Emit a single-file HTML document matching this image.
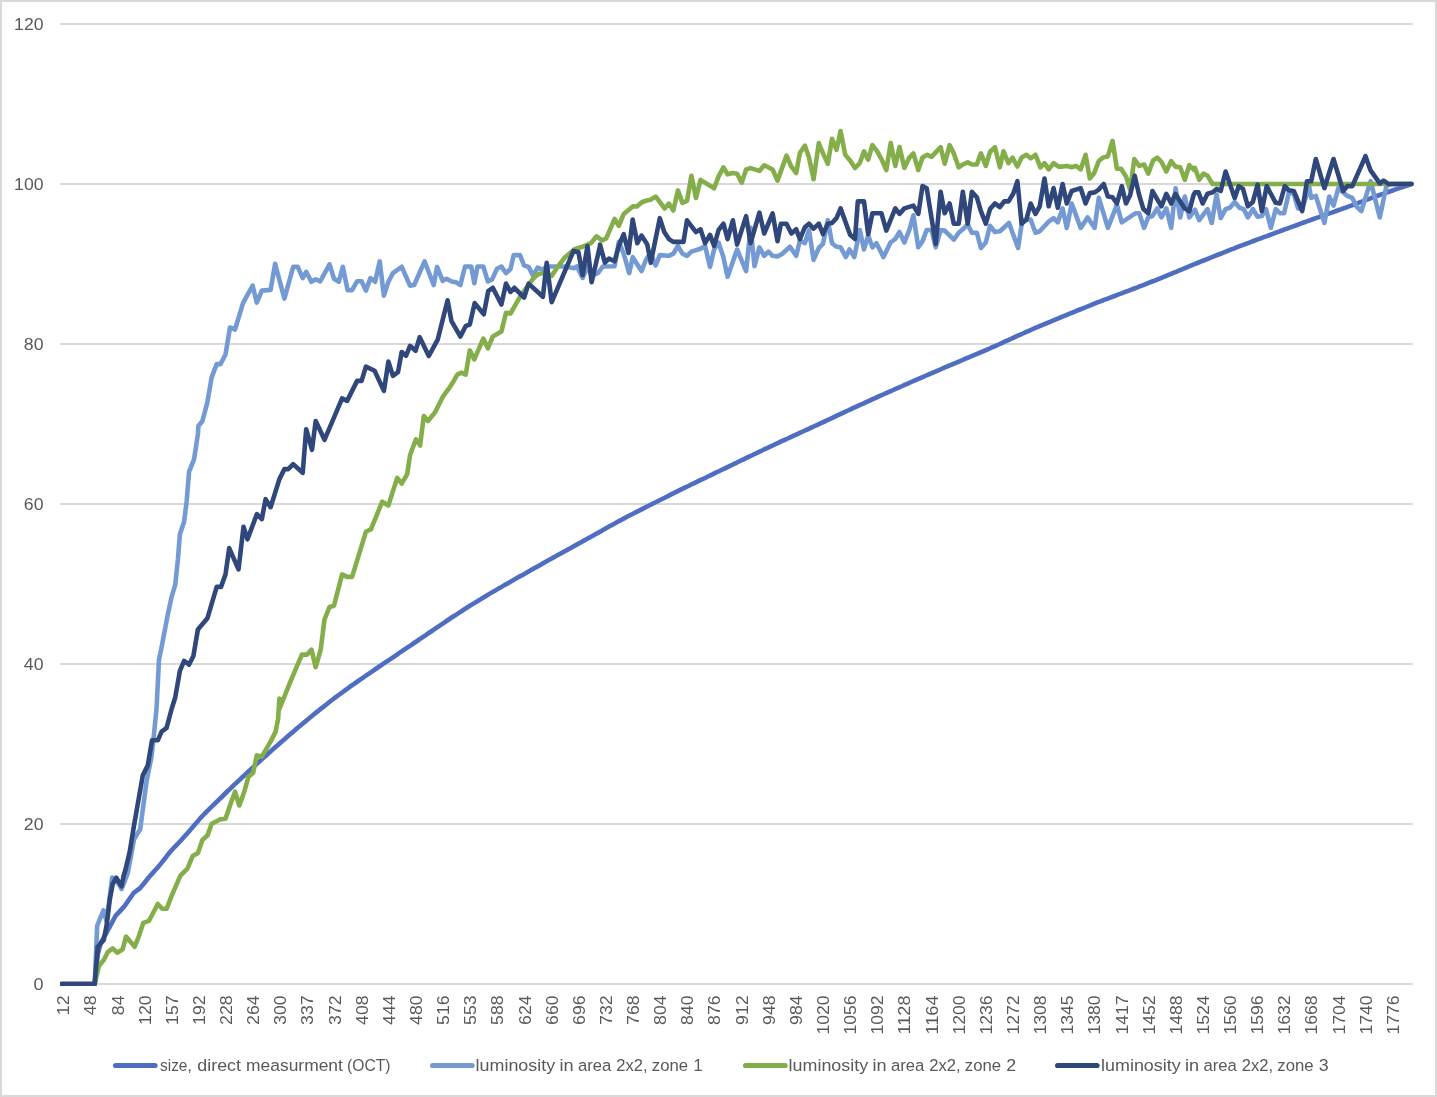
<!DOCTYPE html>
<html lang="en"><head><meta charset="utf-8"><title>Chart</title>
<style>html,body{margin:0;padding:0;background:#fff}body{width:1437px;height:1097px;overflow:hidden}svg{display:block}text{font-family:"Liberation Sans",sans-serif;font-size:16.7px;fill:#595959}</style>
</head><body>
<svg width="1437" height="1097" viewBox="0 0 1437 1097">
<rect x="0" y="0" width="1437" height="1097" fill="#fff"/>
<rect x="1" y="1" width="1435" height="1095" fill="none" stroke="#d9d9d9" stroke-width="2"/>
<g stroke="#d9d9d9" stroke-width="1.8">
<line x1="60" y1="984" x2="1413" y2="984"/>
<line x1="60" y1="824" x2="1413" y2="824"/>
<line x1="60" y1="664" x2="1413" y2="664"/>
<line x1="60" y1="504" x2="1413" y2="504"/>
<line x1="60" y1="344" x2="1413" y2="344"/>
<line x1="60" y1="184" x2="1413" y2="184"/>
<line x1="60" y1="24" x2="1413" y2="24"/>
</g>
<g text-anchor="end">
<text x="43.5" y="990.0" textLength="10.0" lengthAdjust="spacingAndGlyphs">0</text>
<text x="43.5" y="830.0" textLength="19.7" lengthAdjust="spacingAndGlyphs">20</text>
<text x="43.5" y="670.0" textLength="19.7" lengthAdjust="spacingAndGlyphs">40</text>
<text x="43.5" y="510.0" textLength="19.7" lengthAdjust="spacingAndGlyphs">60</text>
<text x="43.5" y="350.0" textLength="19.7" lengthAdjust="spacingAndGlyphs">80</text>
<text x="43.5" y="190.0" textLength="29.4" lengthAdjust="spacingAndGlyphs">100</text>
<text x="43.5" y="30.0" textLength="29.4" lengthAdjust="spacingAndGlyphs">120</text>
</g>
<g text-anchor="end">
<text transform="translate(63.25,995.5) rotate(-90)" x="0" y="6" textLength="19.7" lengthAdjust="spacingAndGlyphs">12</text>
<text transform="translate(90.39,995.5) rotate(-90)" x="0" y="6" textLength="19.7" lengthAdjust="spacingAndGlyphs">48</text>
<text transform="translate(117.52,995.5) rotate(-90)" x="0" y="6" textLength="19.7" lengthAdjust="spacingAndGlyphs">84</text>
<text transform="translate(144.66,995.5) rotate(-90)" x="0" y="6" textLength="29.4" lengthAdjust="spacingAndGlyphs">120</text>
<text transform="translate(171.79,995.5) rotate(-90)" x="0" y="6" textLength="29.4" lengthAdjust="spacingAndGlyphs">157</text>
<text transform="translate(198.93,995.5) rotate(-90)" x="0" y="6" textLength="29.4" lengthAdjust="spacingAndGlyphs">192</text>
<text transform="translate(226.06,995.5) rotate(-90)" x="0" y="6" textLength="29.4" lengthAdjust="spacingAndGlyphs">228</text>
<text transform="translate(253.20,995.5) rotate(-90)" x="0" y="6" textLength="29.4" lengthAdjust="spacingAndGlyphs">264</text>
<text transform="translate(280.33,995.5) rotate(-90)" x="0" y="6" textLength="29.4" lengthAdjust="spacingAndGlyphs">300</text>
<text transform="translate(307.47,995.5) rotate(-90)" x="0" y="6" textLength="29.4" lengthAdjust="spacingAndGlyphs">337</text>
<text transform="translate(334.60,995.5) rotate(-90)" x="0" y="6" textLength="29.4" lengthAdjust="spacingAndGlyphs">372</text>
<text transform="translate(361.74,995.5) rotate(-90)" x="0" y="6" textLength="29.4" lengthAdjust="spacingAndGlyphs">408</text>
<text transform="translate(388.87,995.5) rotate(-90)" x="0" y="6" textLength="29.4" lengthAdjust="spacingAndGlyphs">444</text>
<text transform="translate(416.00,995.5) rotate(-90)" x="0" y="6" textLength="29.4" lengthAdjust="spacingAndGlyphs">480</text>
<text transform="translate(443.14,995.5) rotate(-90)" x="0" y="6" textLength="29.4" lengthAdjust="spacingAndGlyphs">516</text>
<text transform="translate(470.28,995.5) rotate(-90)" x="0" y="6" textLength="29.4" lengthAdjust="spacingAndGlyphs">553</text>
<text transform="translate(497.41,995.5) rotate(-90)" x="0" y="6" textLength="29.4" lengthAdjust="spacingAndGlyphs">588</text>
<text transform="translate(524.55,995.5) rotate(-90)" x="0" y="6" textLength="29.4" lengthAdjust="spacingAndGlyphs">624</text>
<text transform="translate(551.68,995.5) rotate(-90)" x="0" y="6" textLength="29.4" lengthAdjust="spacingAndGlyphs">660</text>
<text transform="translate(578.82,995.5) rotate(-90)" x="0" y="6" textLength="29.4" lengthAdjust="spacingAndGlyphs">696</text>
<text transform="translate(605.95,995.5) rotate(-90)" x="0" y="6" textLength="29.4" lengthAdjust="spacingAndGlyphs">732</text>
<text transform="translate(633.09,995.5) rotate(-90)" x="0" y="6" textLength="29.4" lengthAdjust="spacingAndGlyphs">768</text>
<text transform="translate(660.22,995.5) rotate(-90)" x="0" y="6" textLength="29.4" lengthAdjust="spacingAndGlyphs">804</text>
<text transform="translate(687.36,995.5) rotate(-90)" x="0" y="6" textLength="29.4" lengthAdjust="spacingAndGlyphs">840</text>
<text transform="translate(714.49,995.5) rotate(-90)" x="0" y="6" textLength="29.4" lengthAdjust="spacingAndGlyphs">876</text>
<text transform="translate(741.62,995.5) rotate(-90)" x="0" y="6" textLength="29.4" lengthAdjust="spacingAndGlyphs">912</text>
<text transform="translate(768.76,995.5) rotate(-90)" x="0" y="6" textLength="29.4" lengthAdjust="spacingAndGlyphs">948</text>
<text transform="translate(795.90,995.5) rotate(-90)" x="0" y="6" textLength="29.4" lengthAdjust="spacingAndGlyphs">984</text>
<text transform="translate(823.03,995.5) rotate(-90)" x="0" y="6" textLength="39.1" lengthAdjust="spacingAndGlyphs">1020</text>
<text transform="translate(850.17,995.5) rotate(-90)" x="0" y="6" textLength="39.1" lengthAdjust="spacingAndGlyphs">1056</text>
<text transform="translate(877.30,995.5) rotate(-90)" x="0" y="6" textLength="39.1" lengthAdjust="spacingAndGlyphs">1092</text>
<text transform="translate(904.44,995.5) rotate(-90)" x="0" y="6" textLength="39.1" lengthAdjust="spacingAndGlyphs">1128</text>
<text transform="translate(931.57,995.5) rotate(-90)" x="0" y="6" textLength="39.1" lengthAdjust="spacingAndGlyphs">1164</text>
<text transform="translate(958.71,995.5) rotate(-90)" x="0" y="6" textLength="39.1" lengthAdjust="spacingAndGlyphs">1200</text>
<text transform="translate(985.84,995.5) rotate(-90)" x="0" y="6" textLength="39.1" lengthAdjust="spacingAndGlyphs">1236</text>
<text transform="translate(1012.98,995.5) rotate(-90)" x="0" y="6" textLength="39.1" lengthAdjust="spacingAndGlyphs">1272</text>
<text transform="translate(1040.11,995.5) rotate(-90)" x="0" y="6" textLength="39.1" lengthAdjust="spacingAndGlyphs">1308</text>
<text transform="translate(1067.24,995.5) rotate(-90)" x="0" y="6" textLength="39.1" lengthAdjust="spacingAndGlyphs">1345</text>
<text transform="translate(1094.38,995.5) rotate(-90)" x="0" y="6" textLength="39.1" lengthAdjust="spacingAndGlyphs">1380</text>
<text transform="translate(1121.52,995.5) rotate(-90)" x="0" y="6" textLength="39.1" lengthAdjust="spacingAndGlyphs">1417</text>
<text transform="translate(1148.65,995.5) rotate(-90)" x="0" y="6" textLength="39.1" lengthAdjust="spacingAndGlyphs">1452</text>
<text transform="translate(1175.79,995.5) rotate(-90)" x="0" y="6" textLength="39.1" lengthAdjust="spacingAndGlyphs">1488</text>
<text transform="translate(1202.92,995.5) rotate(-90)" x="0" y="6" textLength="39.1" lengthAdjust="spacingAndGlyphs">1524</text>
<text transform="translate(1230.06,995.5) rotate(-90)" x="0" y="6" textLength="39.1" lengthAdjust="spacingAndGlyphs">1560</text>
<text transform="translate(1257.19,995.5) rotate(-90)" x="0" y="6" textLength="39.1" lengthAdjust="spacingAndGlyphs">1596</text>
<text transform="translate(1284.33,995.5) rotate(-90)" x="0" y="6" textLength="39.1" lengthAdjust="spacingAndGlyphs">1632</text>
<text transform="translate(1311.46,995.5) rotate(-90)" x="0" y="6" textLength="39.1" lengthAdjust="spacingAndGlyphs">1668</text>
<text transform="translate(1338.60,995.5) rotate(-90)" x="0" y="6" textLength="39.1" lengthAdjust="spacingAndGlyphs">1704</text>
<text transform="translate(1365.73,995.5) rotate(-90)" x="0" y="6" textLength="39.1" lengthAdjust="spacingAndGlyphs">1740</text>
<text transform="translate(1392.87,995.5) rotate(-90)" x="0" y="6" textLength="39.1" lengthAdjust="spacingAndGlyphs">1776</text>
</g>
<defs><clipPath id="plot"><rect x="60" y="0" width="1354" height="986.1"/></clipPath></defs>
<g fill="none" stroke-width="4.6" stroke-linejoin="round" stroke-linecap="round" clip-path="url(#plot)">
<polyline stroke="#4f6ec2" points="61.5,984.0 94.7,984.0 97.7,955.0 100.7,942.6 103.7,937.7 106.7,932.4 109.7,926.9 112.7,921.2 115.7,915.6 118.8,912.4 121.8,909.1 124.8,905.7 127.8,901.4 130.8,897.1 133.8,892.8 136.8,890.5 139.9,888.3 142.9,884.8 145.9,881.0 148.9,877.2 151.9,873.9 154.9,870.5 157.9,867.2 160.9,863.6 164.0,859.7 167.0,855.8 170.0,852.0 173.0,848.7 176.0,845.6 179.0,842.5 182.0,839.2 185.1,835.8 188.1,832.4 191.1,829.0 194.1,825.6 197.1,822.1 200.1,818.4 203.1,815.2 206.1,812.1 209.2,809.1 212.2,806.1 215.2,803.3 218.2,800.4 221.2,797.5 224.2,794.5 227.2,791.5 230.3,788.6 233.3,785.7 236.3,782.9 239.3,780.1 242.3,777.3 245.3,774.5 248.3,771.7 251.3,768.9 254.4,766.1 257.4,763.3 260.4,760.6 263.4,757.9 266.4,755.2 269.4,752.5 272.4,749.8 275.5,747.1 278.5,744.5 281.5,741.8 284.5,739.2 287.5,736.6 290.5,734.0 293.5,731.4 296.5,728.8 299.6,726.3 302.6,723.8 305.6,721.2 308.6,718.7 311.6,716.3 314.6,713.8 317.6,711.4 320.7,708.9 323.7,706.6 326.7,704.2 329.7,701.8 332.7,699.5 335.7,697.2 338.7,695.0 341.7,692.8 344.8,690.5 347.8,688.4 350.8,686.2 353.8,684.1 356.8,682.0 359.8,679.9 362.8,677.8 365.9,675.7 368.9,673.6 371.9,671.6 374.9,669.5 377.9,667.5 380.9,665.4 383.9,663.4 386.9,661.4 390.0,659.3 393.0,657.3 396.0,655.3 399.0,653.2 402.0,651.2 405.0,649.1 408.0,647.1 411.1,645.1 414.1,643.0 417.1,641.0 420.1,638.9 423.1,636.8 426.1,634.8 429.1,632.7 432.2,630.7 435.2,628.7 438.2,626.6 441.2,624.6 444.2,622.6 447.2,620.5 450.2,618.5 453.2,616.5 456.3,614.6 459.3,612.6 462.3,610.7 465.3,608.7 468.3,606.8 471.3,604.9 474.3,603.1 477.4,601.2 480.4,599.4 483.4,597.5 486.4,595.7 489.4,593.9 492.4,592.1 495.4,590.4 498.4,588.6 501.5,586.9 504.5,585.1 507.5,583.4 510.5,581.7 513.5,580.0 516.5,578.3 519.5,576.6 522.6,574.9 525.6,573.2 528.6,571.5 531.6,569.8 534.6,568.1 537.6,566.4 540.6,564.7 543.6,563.0 546.7,561.3 549.7,559.6 552.7,557.9 555.7,556.3 558.7,554.6 561.7,552.9 564.7,551.2 567.8,549.6 570.8,547.9 573.8,546.2 576.8,544.6 579.8,542.9 582.8,541.2 585.8,539.6 588.8,537.9 591.9,536.2 594.9,534.5 597.9,532.9 600.9,531.2 603.9,529.5 606.9,527.8 609.9,526.1 613.0,524.4 616.0,522.8 619.0,521.1 622.0,519.5 625.0,517.9 628.0,516.3 631.0,514.7 634.0,513.2 637.1,511.6 640.1,510.1 643.1,508.6 646.1,507.0 649.1,505.5 652.1,504.0 655.1,502.5 658.2,501.0 661.2,499.5 664.2,498.0 667.2,496.5 670.2,494.9 673.2,493.4 676.2,491.9 679.2,490.4 682.3,488.9 685.3,487.4 688.3,486.0 691.3,484.5 694.3,483.1 697.3,481.6 700.3,480.2 703.4,478.7 706.4,477.3 709.4,475.8 712.4,474.4 715.4,472.9 718.4,471.5 721.4,470.0 724.4,468.6 727.5,467.1 730.5,465.7 733.5,464.2 736.5,462.8 739.5,461.3 742.5,459.8 745.5,458.4 748.6,456.9 751.6,455.5 754.6,454.0 757.6,452.6 760.6,451.2 763.6,449.7 766.6,448.3 769.6,446.9 772.7,445.5 775.7,444.0 778.7,442.6 781.7,441.2 784.7,439.8 787.7,438.5 790.7,437.1 793.8,435.7 796.8,434.3 799.8,432.9 802.8,431.5 805.8,430.2 808.8,428.8 811.8,427.4 814.8,426.0 817.9,424.6 820.9,423.2 823.9,421.8 826.9,420.4 829.9,419.0 832.9,417.6 835.9,416.1 839.0,414.7 842.0,413.3 845.0,411.9 848.0,410.5 851.0,409.1 854.0,407.7 857.0,406.3 860.0,404.9 863.1,403.6 866.1,402.2 869.1,400.8 872.1,399.4 875.1,398.1 878.1,396.7 881.1,395.3 884.2,394.0 887.2,392.6 890.2,391.3 893.2,390.0 896.2,388.6 899.2,387.3 902.2,386.0 905.2,384.6 908.3,383.3 911.3,382.0 914.3,380.7 917.3,379.4 920.3,378.1 923.3,376.8 926.3,375.5 929.4,374.1 932.4,372.8 935.4,371.6 938.4,370.3 941.4,369.0 944.4,367.7 947.4,366.4 950.4,365.1 953.5,363.8 956.5,362.6 959.5,361.3 962.5,360.0 965.5,358.7 968.5,357.5 971.5,356.2 974.6,354.9 977.6,353.7 980.6,352.4 983.6,351.1 986.6,349.8 989.6,348.5 992.6,347.1 995.6,345.8 998.7,344.5 1001.7,343.1 1004.7,341.7 1007.7,340.4 1010.7,339.0 1013.7,337.6 1016.7,336.2 1019.8,334.8 1022.8,333.5 1025.8,332.1 1028.8,330.8 1031.8,329.5 1034.8,328.2 1037.8,326.9 1040.8,325.6 1043.9,324.4 1046.9,323.1 1049.9,321.9 1052.9,320.6 1055.9,319.4 1058.9,318.2 1061.9,316.9 1065.0,315.7 1068.0,314.4 1071.0,313.2 1074.0,312.0 1077.0,310.7 1080.0,309.5 1083.0,308.3 1086.1,307.0 1089.1,305.8 1092.1,304.6 1095.1,303.4 1098.1,302.2 1101.1,301.1 1104.1,299.9 1107.1,298.8 1110.2,297.6 1113.2,296.5 1116.2,295.3 1119.2,294.2 1122.2,293.1 1125.2,291.9 1128.2,290.8 1131.3,289.7 1134.3,288.5 1137.3,287.4 1140.3,286.2 1143.3,285.1 1146.3,283.9 1149.3,282.7 1152.3,281.5 1155.4,280.3 1158.4,279.1 1161.4,277.9 1164.4,276.6 1167.4,275.4 1170.4,274.2 1173.4,272.9 1176.5,271.7 1179.5,270.4 1182.5,269.2 1185.5,267.9 1188.5,266.7 1191.5,265.4 1194.5,264.2 1197.5,263.0 1200.6,261.7 1203.6,260.5 1206.6,259.3 1209.6,258.1 1212.6,256.9 1215.6,255.7 1218.6,254.5 1221.7,253.3 1224.7,252.1 1227.7,250.9 1230.7,249.7 1233.7,248.6 1236.7,247.4 1239.7,246.2 1242.7,245.1 1245.8,243.9 1248.8,242.8 1251.8,241.7 1254.8,240.5 1257.8,239.4 1260.8,238.3 1263.8,237.2 1266.9,236.1 1269.9,235.0 1272.9,233.9 1275.9,232.7 1278.9,231.6 1281.9,230.5 1284.9,229.4 1287.9,228.3 1291.0,227.2 1294.0,226.1 1297.0,225.0 1300.0,223.8 1303.0,222.7 1306.0,221.7 1309.0,220.6 1312.1,219.5 1315.1,218.4 1318.1,217.4 1321.1,216.3 1324.1,215.2 1327.1,214.2 1330.1,213.1 1333.1,212.1 1336.2,211.0 1339.2,209.9 1342.2,208.8 1345.2,207.8 1348.2,206.7 1351.2,205.6 1354.2,204.4 1357.3,203.3 1360.3,202.2 1363.3,201.1 1366.3,199.9 1369.3,198.8 1372.3,197.7 1375.3,196.6 1378.3,195.5 1381.4,194.4 1384.4,193.3 1387.4,192.2 1390.4,191.2 1393.4,190.2 1396.4,189.1 1399.4,188.1 1402.5,187.1 1405.5,186.1 1408.5,185.2 1411.5,184.0"/>
<polyline stroke="#749ad3" points="61.5,984.0 94.7,984.0 97.2,925.7 100.7,917.0 103.5,910.4 106.7,922.0 109.7,897.0 112.2,877.5 115.7,880.0 118.8,884.0 121.5,889.0 124.8,881.0 127.8,873.0 134.0,839.4 140.2,829.3 146.5,781.7 151.5,756.6 154.0,734.1 156.5,709.0 159.0,659.6 161.6,647.1 167.8,614.5 171.6,596.9 175.3,584.4 177.9,559.3 179.9,534.3 184.1,521.7 186.6,501.7 189.1,471.6 194.1,459.1 197.9,434.0 198.4,426.0 202.4,421.0 207.4,402.2 211.7,377.1 216.7,364.1 220.5,364.1 225.5,354.5 230.0,327.5 235.0,329.5 243.0,303.1 252.6,285.6 256.8,302.6 261.8,290.6 270.6,289.9 275.1,263.8 284.4,298.6 293.2,266.8 297.7,266.8 302.7,278.1 306.2,271.8 311.5,281.8 315.7,279.3 320.2,281.3 329.5,264.3 334.0,278.8 338.8,281.8 342.8,266.8 347.6,290.1 352.1,290.1 357.1,281.3 361.6,281.3 365.9,290.6 370.4,278.1 375.1,281.8 379.7,261.3 383.9,295.6 388.4,281.8 392.9,273.1 401.7,266.8 410.0,285.6 414.2,285.0 424.6,261.3 433.7,285.0 437.1,266.9 442.7,280.8 446.5,278.7 451.8,281.5 455.9,282.2 460.4,285.0 465.0,266.5 471.2,266.5 474.3,283.2 477.5,266.5 483.3,266.5 487.9,281.5 492.1,279.4 497.0,268.7 501.4,266.5 506.0,273.1 510.5,269.0 513.7,255.1 520.0,255.1 524.1,265.5 528.6,266.9 533.2,275.9 537.6,267.6 542.2,269.7 547.1,266.5 564.5,266.5 574.2,268.3 577.0,266.5 582.6,278.0 587.5,266.5 591.6,275.9 597.9,273.1 602.8,266.5 614.6,266.2 618.8,241.9 623.7,253.7 629.2,273.2 632.7,257.2 641.5,271.1 645.9,260.0 650.4,253.0 655.7,265.5 659.8,255.1 668.9,255.8 673.3,253.7 677.9,246.0 682.4,253.7 687.0,255.8 691.4,251.6 700.5,248.8 705.1,246.0 710.0,266.9 714.1,249.5 718.6,242.6 723.2,256.5 727.6,276.7 737.1,249.5 746.1,271.1 750.6,227.9 754.5,266.2 759.4,247.4 764.2,255.8 768.4,251.6 772.6,255.8 777.5,256.5 782.3,253.7 790.0,246.7 796.2,255.8 799.9,240.5 804.9,243.2 809.0,230.0 813.6,259.9 818.8,248.0 823.0,243.9 827.8,220.2 832.0,243.2 836.5,246.7 840.6,247.3 845.9,257.1 849.4,249.4 854.3,257.1 859.8,230.0 864.0,249.4 868.2,235.5 872.4,247.3 876.5,243.2 883.5,257.1 890.5,242.5 895.3,239.0 899.5,232.0 904.4,242.5 909.3,230.0 913.4,215.3 918.3,247.3 922.5,241.1 926.7,230.0 931.5,230.0 935.7,247.3 940.6,230.0 944.7,230.6 953.8,239.7 958.7,232.7 962.8,229.3 967.7,224.4 971.9,232.7 976.8,232.7 980.9,248.0 985.8,242.5 990.0,225.8 994.9,232.0 999.9,231.3 1009.0,223.0 1018.1,248.0 1022.3,220.2 1030.6,219.5 1035.5,232.7 1039.7,231.3 1048.7,221.6 1053.6,218.1 1057.8,222.3 1062.6,208.4 1066.8,227.9 1071.7,203.5 1080.7,227.9 1087.7,217.4 1094.6,227.9 1098.8,197.9 1107.9,227.9 1116.9,204.9 1121.8,222.3 1135.7,213.2 1139.2,213.2 1144.1,227.9 1148.2,217.4 1152.4,216.0 1157.3,208.4 1161.4,217.4 1166.3,208.4 1171.2,227.9 1175.6,188.2 1180.2,217.4 1184.8,196.5 1189.3,217.4 1195.0,209.8 1199.2,220.2 1207.5,209.1 1211.7,223.0 1216.6,194.5 1220.7,218.1 1225.6,209.1 1229.8,207.7 1234.7,202.1 1239.5,207.7 1243.7,209.1 1247.9,217.4 1252.8,209.1 1257.6,216.7 1261.8,216.0 1266.0,209.1 1270.9,227.9 1275.7,209.1 1279.9,213.2 1284.1,213.2 1288.9,192.4 1293.8,193.8 1298.0,208.4 1302.2,209.1 1309.1,186.8 1311.2,197.9 1315.8,195.9 1324.4,223.0 1329.3,196.5 1333.5,205.6 1338.4,188.2 1343.2,192.4 1347.4,195.9 1352.3,197.9 1356.4,206.3 1361.3,211.2 1370.6,181.2 1379.8,217.4 1386.4,186.1 1391.2,184.0 1411.5,184.0"/>
<polyline stroke="#84ae4a" points="61.5,984.0 94.7,984.0 98.9,966.0 103.9,959.7 107.7,952.2 112.7,948.4 117.2,952.7 122.7,949.2 126.0,936.6 134.7,946.7 139.0,935.9 143.3,922.8 149.0,920.8 157.8,904.0 162.3,908.8 166.6,908.8 171.6,895.8 180.4,875.7 187.4,868.7 192.9,855.7 197.9,853.1 202.4,839.9 207.4,835.6 211.7,823.8 220.5,819.3 225.5,818.8 230.0,805.5 235.0,791.7 239.3,805.5 244.3,791.7 248.5,776.7 253.1,772.9 256.8,755.4 261.8,756.6 270.6,741.6 275.6,731.6 278.1,719.0 279.4,698.5 279.4,709.0 290.7,680.9 301.9,654.6 307.0,654.6 311.5,649.6 315.7,667.1 320.7,649.6 324.5,619.5 329.5,607.0 334.0,605.7 342.1,574.4 347.1,576.9 352.1,576.9 365.9,531.8 370.9,529.3 382.2,501.7 388.4,505.4 397.2,477.9 401.7,483.6 407.2,474.1 410.0,455.3 415.9,439.3 420.1,445.5 423.8,416.0 428.0,421.0 435.1,412.2 442.6,397.2 448.9,388.4 453.1,382.0 457.3,374.7 461.5,372.7 465.7,374.7 469.8,350.4 474.3,359.4 483.3,338.6 487.9,348.3 492.8,336.5 501.4,331.6 506.0,312.8 510.5,313.5 520.0,296.8 528.3,285.0 533.2,278.7 537.6,274.5 542.2,273.1 551.7,275.9 556.1,269.0 564.5,257.8 574.2,249.5 582.6,246.7 590.9,243.2 596.5,236.3 602.1,240.4 606.2,238.4 614.6,218.9 618.8,225.9 623.7,214.0 632.7,206.4 636.9,206.4 641.8,202.2 645.9,200.8 650.4,199.8 655.7,196.6 664.7,208.5 668.9,203.6 673.3,210.5 677.9,190.4 682.4,202.9 687.0,200.8 691.4,175.7 696.0,198.0 700.5,179.9 714.1,188.3 718.6,176.4 723.5,167.4 727.6,174.4 732.2,173.0 737.1,173.7 741.7,182.7 746.1,169.5 750.6,168.1 759.4,170.9 764.2,165.3 772.6,169.5 777.5,180.6 786.5,155.6 791.4,166.7 796.2,173.0 799.9,152.8 804.9,145.7 809.0,157.6 813.6,179.2 818.8,143.0 823.0,153.4 827.8,163.8 832.0,138.8 836.5,149.9 840.6,131.1 845.2,154.8 850.1,160.4 855.0,168.0 859.8,163.1 864.0,151.3 868.2,159.7 872.4,145.1 877.2,151.3 882.1,160.4 886.3,170.1 890.7,143.0 895.3,165.9 899.5,147.1 904.4,168.0 909.3,157.6 913.4,153.4 918.3,170.1 922.5,157.6 927.3,154.8 931.5,156.9 940.6,147.1 944.7,163.8 949.6,145.1 953.8,153.4 958.7,167.3 962.8,164.5 967.7,162.4 971.9,164.5 976.8,164.5 980.9,153.4 985.8,165.9 990.0,152.0 994.9,147.1 999.9,167.3 1003.5,151.3 1008.4,163.1 1012.5,157.6 1017.4,166.6 1021.6,157.6 1026.4,154.8 1030.6,158.3 1035.5,154.8 1040.4,167.3 1044.5,163.1 1048.7,169.4 1053.6,163.1 1058.5,166.6 1062.6,166.6 1066.8,165.9 1071.7,167.3 1075.9,165.9 1080.7,169.4 1085.6,154.8 1089.8,178.5 1093.9,173.6 1098.8,161.1 1103.0,157.6 1107.9,156.2 1112.5,140.9 1116.9,168.7 1121.1,168.7 1126.0,176.4 1130.1,189.6 1134.3,159.0 1139.2,165.9 1144.1,164.5 1148.2,173.6 1153.1,160.4 1157.3,157.6 1161.4,161.8 1166.3,171.5 1171.2,161.1 1175.4,166.6 1180.2,167.3 1184.8,179.8 1189.3,165.2 1194.2,170.1 1195.0,168.0 1199.2,179.8 1203.4,173.6 1207.5,175.7 1212.4,184.0 1411.5,184.0"/>
<polyline stroke="#30477c" points="61.5,984.0 94.7,984.0 97.7,947.0 100.7,943.5 103.7,940.0 106.7,925.0 109.7,900.0 112.7,884.0 116.3,877.7 118.8,882.0 121.5,886.4 123.6,876.0 125.4,870.0 129.7,851.9 134.0,825.6 142.8,775.4 147.8,765.4 152.0,740.3 157.8,740.3 161.6,731.6 166.6,727.8 171.6,709.0 175.3,697.2 179.9,670.9 184.1,660.9 189.1,664.6 193.4,655.9 197.9,629.5 207.4,618.3 216.7,586.9 221.0,586.9 225.5,574.4 229.2,548.1 238.5,569.4 243.5,526.8 247.5,539.3 256.8,514.2 261.8,519.2 265.6,499.2 270.6,507.2 279.4,479.1 284.4,469.1 288.2,469.1 293.2,464.1 302.7,472.9 306.2,429.2 312.0,449.8 315.7,421.0 324.5,439.8 342.1,398.4 347.1,400.9 357.1,380.9 361.6,380.9 365.9,366.6 374.6,370.8 383.9,390.9 388.4,361.6 392.9,375.8 398.0,372.1 401.7,352.0 406.0,355.8 410.0,345.8 415.6,350.8 419.7,337.2 428.8,356.0 437.8,339.3 447.6,300.3 451.5,321.2 460.4,336.5 465.7,326.0 469.8,324.6 474.7,303.1 483.8,314.2 488.2,291.2 492.8,287.8 501.4,304.5 506.0,283.6 510.5,291.9 514.4,287.8 524.1,297.5 528.6,283.6 542.9,296.8 546.7,262.7 551.7,302.1 573.5,250.9 578.4,252.0 582.6,275.2 587.5,246.0 591.6,282.2 600.0,246.0 600.0,244.6 604.9,262.7 609.0,258.6 614.6,261.3 618.8,246.0 623.7,234.2 628.5,253.0 632.7,219.6 637.3,243.2 641.5,235.6 647.3,244.6 650.8,262.7 659.8,218.2 664.3,232.1 668.9,239.1 673.3,241.9 683.5,241.9 687.0,220.3 696.0,232.1 700.5,229.3 705.1,243.2 710.0,234.9 714.1,246.0 718.6,230.0 723.5,223.8 727.6,239.1 732.9,220.3 737.1,244.6 746.1,216.1 750.6,243.2 759.4,212.6 764.2,233.5 772.6,213.3 777.5,241.2 780.9,223.8 786.5,223.8 791.4,233.5 796.2,229.3 799.9,239.1 804.9,227.2 809.0,223.7 813.6,228.6 818.8,223.7 823.0,234.1 827.8,223.7 832.0,223.0 836.5,218.1 840.6,208.4 850.1,234.8 855.0,239.0 857.8,201.4 864.0,201.4 868.2,234.1 872.4,213.2 881.4,213.2 886.3,230.6 895.3,208.4 899.5,213.9 904.4,208.4 913.4,205.6 918.3,213.9 922.5,186.1 926.7,188.2 935.7,243.9 940.6,191.7 944.7,213.2 949.6,203.5 953.8,223.7 958.7,223.7 962.8,191.7 967.7,223.7 971.9,191.7 976.8,197.2 980.9,211.2 985.8,223.7 990.0,209.1 994.9,203.5 999.9,207.0 1004.2,201.4 1008.4,201.4 1013.2,193.8 1017.4,181.2 1021.6,223.7 1026.4,219.5 1030.6,203.5 1035.5,213.9 1039.7,206.3 1044.5,178.5 1048.7,206.3 1053.6,188.2 1057.8,207.7 1062.6,184.0 1066.8,203.5 1071.7,191.0 1075.9,189.6 1080.7,188.2 1085.6,203.5 1089.8,193.1 1094.6,192.4 1098.8,189.6 1103.7,184.0 1107.9,196.5 1112.5,197.2 1116.9,203.5 1121.8,186.1 1126.0,203.5 1130.1,195.2 1134.7,175.7 1139.2,195.2 1143.4,209.1 1148.2,213.2 1152.4,191.0 1157.3,199.3 1161.4,206.3 1166.3,193.8 1171.2,203.5 1175.4,193.8 1180.2,201.4 1184.8,208.4 1189.3,211.2 1193.5,195.2 1195.0,192.4 1198.5,192.4 1202.7,203.5 1207.5,193.8 1212.4,192.4 1216.6,188.9 1220.7,191.0 1225.6,171.5 1234.7,197.9 1238.8,186.1 1243.0,188.9 1247.9,206.3 1252.8,202.1 1257.6,184.7 1261.8,211.2 1266.7,186.1 1275.7,202.8 1279.9,203.5 1284.8,186.1 1288.9,190.3 1293.8,191.0 1302.2,211.2 1307.0,181.2 1311.2,181.2 1315.8,159.0 1324.4,188.2 1333.5,159.0 1343.2,191.0 1347.4,186.1 1352.3,186.1 1365.5,156.2 1370.4,170.1 1379.8,183.3 1383.6,180.5 1388.5,184.0 1411.5,184.0"/>
</g>
<line x1="115.6" y1="1065.5" x2="155.0" y2="1065.5" stroke="#4f6ec2" stroke-width="5.2" stroke-linecap="round"/>
<text y="1070.7" font-size="16.7"><tspan x="160.0" textLength="31.7" lengthAdjust="spacingAndGlyphs">size,</tspan> <tspan x="197.3" textLength="43.7" lengthAdjust="spacingAndGlyphs">direct</tspan> <tspan x="246.1" textLength="96.8" lengthAdjust="spacingAndGlyphs">measurment</tspan> <tspan x="347.1" textLength="43.4" lengthAdjust="spacingAndGlyphs">(OCT)</tspan></text>
<line x1="432.6" y1="1065.5" x2="472.1" y2="1065.5" stroke="#749ad3" stroke-width="5.2" stroke-linecap="round"/>
<text y="1070.7" font-size="16.7"><tspan x="475.6" textLength="79.6" lengthAdjust="spacingAndGlyphs">luminosity</tspan> <tspan x="559.5" textLength="14.1" lengthAdjust="spacingAndGlyphs">in</tspan> <tspan x="577.9" textLength="33.3" lengthAdjust="spacingAndGlyphs">area</tspan> <tspan x="616.3" textLength="31.3" lengthAdjust="spacingAndGlyphs">2x2,</tspan> <tspan x="651.8" textLength="36.3" lengthAdjust="spacingAndGlyphs">zone</tspan> <tspan x="693.6" textLength="9.1" lengthAdjust="spacingAndGlyphs">1</tspan></text>
<line x1="745.6" y1="1065.5" x2="785.1" y2="1065.5" stroke="#84ae4a" stroke-width="5.2" stroke-linecap="round"/>
<text y="1070.7" font-size="16.7"><tspan x="788.6" textLength="79.6" lengthAdjust="spacingAndGlyphs">luminosity</tspan> <tspan x="872.5" textLength="14.1" lengthAdjust="spacingAndGlyphs">in</tspan> <tspan x="890.9" textLength="33.3" lengthAdjust="spacingAndGlyphs">area</tspan> <tspan x="929.3" textLength="31.3" lengthAdjust="spacingAndGlyphs">2x2,</tspan> <tspan x="964.8" textLength="36.3" lengthAdjust="spacingAndGlyphs">zone</tspan> <tspan x="1006.2" textLength="9.9" lengthAdjust="spacingAndGlyphs">2</tspan></text>
<line x1="1057.6" y1="1065.5" x2="1097.0" y2="1065.5" stroke="#30477c" stroke-width="5.2" stroke-linecap="round"/>
<text y="1070.7" font-size="16.7"><tspan x="1101.1" textLength="79.6" lengthAdjust="spacingAndGlyphs">luminosity</tspan> <tspan x="1185.0" textLength="14.1" lengthAdjust="spacingAndGlyphs">in</tspan> <tspan x="1203.4" textLength="33.3" lengthAdjust="spacingAndGlyphs">area</tspan> <tspan x="1241.8" textLength="31.3" lengthAdjust="spacingAndGlyphs">2x2,</tspan> <tspan x="1277.3" textLength="36.3" lengthAdjust="spacingAndGlyphs">zone</tspan> <tspan x="1318.7" textLength="9.9" lengthAdjust="spacingAndGlyphs">3</tspan></text>
</svg>
</body></html>
